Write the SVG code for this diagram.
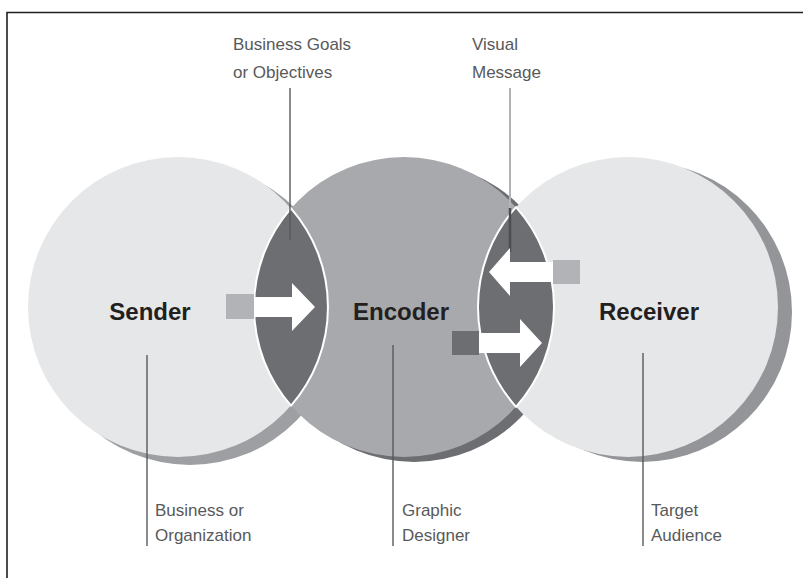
<svg xmlns="http://www.w3.org/2000/svg" width="803" height="578" viewBox="0 0 803 578">
  <style>
    .title { font-family: "Liberation Sans", Arial, sans-serif; font-weight: bold; font-size: 24px; fill: #231f20; text-anchor: middle; }
    .note { font-family: "Liberation Sans", Arial, sans-serif; font-size: 17px; fill: #58595b; }
    .leader { stroke: #58595b; stroke-width: 1.4; fill: none; }
    .light-disc { fill: #e6e7e8; }
    .lens { fill: #6d6e71; stroke: #ffffff; stroke-width: 2; }
    .flow { fill: #ffffff; }
  </style>

  <rect width="803" height="578" fill="#ffffff"/>
  <!-- frame -->
  <path d="M7 578 V12.5 H803" fill="none" stroke="#231f20" stroke-width="1.6"/>

  <!-- Sender -->
  <g id="sender">
    <circle cx="190" cy="315" r="150" fill="#9d9fa2"/>
    <circle cx="178" cy="307" r="150" class="light-disc"/>
  </g>

  <!-- Encoder -->
  <g id="encoder">
    <circle cx="414" cy="312" r="150" fill="#6d6e71"/>
    <circle cx="404" cy="307" r="150" fill="#a7a9ac"/>
  </g>

  <!-- Receiver -->
  <g id="receiver">
    <circle cx="642" cy="312" r="150" fill="#939598"/>
    <circle cx="628" cy="307" r="150" class="light-disc"/>
  </g>

  <!-- overlap lenses -->
  <g id="lens-sender-encoder">
    <path class="lens" d="M291 208.4 A150 150 0 0 1 291 405.6 A150 150 0 0 1 291 208.4 Z"/>
  </g>
  <g id="lens-encoder-receiver">
    <path class="lens" d="M516 207.2 A150 150 0 0 1 516 406.8 A150 150 0 0 1 516 207.2 Z"/>
  </g>

  <!-- connectors: leader lines and flow arrows -->
  <g id="connectors">
    <line class="leader" x1="290" y1="88" x2="290" y2="240"/>
    <line x1="510" y1="88" x2="510" y2="208" stroke="#b1b3b6" stroke-width="2"/>
    <line x1="510" y1="208" x2="510" y2="252" stroke="#4d4d4f" stroke-width="2.5"/>

    <line class="leader" x1="147" y1="355" x2="147" y2="546"/>
    <line class="leader" x1="393" y1="345" x2="393" y2="546"/>
    <line class="leader" x1="643" y1="353" x2="643" y2="546"/>

    <!-- sender to encoder -->
    <rect x="226" y="294" width="28" height="25" fill="#b1b3b6"/>
    <path class="flow" d="M254 297 H292 V283 L315 307 L292 331 V317 H254 Z"/>

    <!-- receiver back to encoder -->
    <rect x="553" y="260" width="27" height="24" fill="#b1b3b6"/>
    <path class="flow" d="M553 262 H510 V248 L489 272 L510 296 V282 H553 Z"/>

    <!-- encoder to receiver -->
    <rect x="452" y="331" width="27" height="24" fill="#6d6e71"/>
    <path class="flow" d="M479 333 H520 V319 L542 343 L520 367 V353 H479 Z"/>
  </g>

  <!-- labels -->
  <text class="title" x="150" y="320">Sender</text>
  <text class="title" x="401" y="320">Encoder</text>
  <text class="title" x="649" y="320">Receiver</text>

  <text class="note" x="233" y="50">Business Goals</text>
  <text class="note" x="233" y="78">or Objectives</text>
  <text class="note" x="472" y="50">Visual</text>
  <text class="note" x="472" y="78">Message</text>

  <text class="note" x="155" y="516">Business or</text>
  <text class="note" x="155" y="541">Organization</text>
  <text class="note" x="402" y="516">Graphic</text>
  <text class="note" x="402" y="541">Designer</text>
  <text class="note" x="651" y="516">Target</text>
  <text class="note" x="651" y="541">Audience</text>
</svg>
